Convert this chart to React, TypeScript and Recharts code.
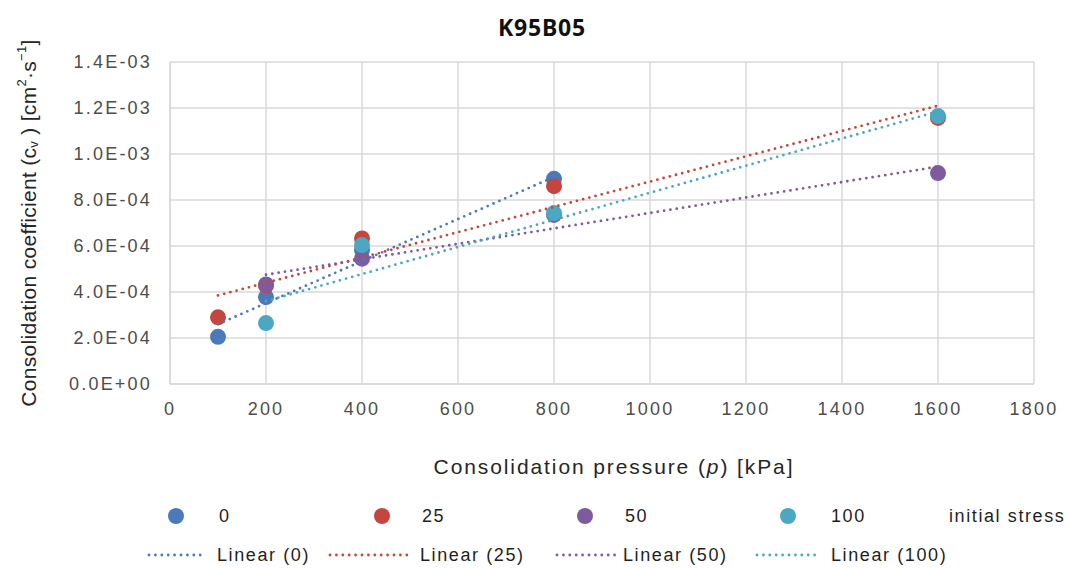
import {
  ScatterChart,
  Scatter,
  XAxis,
  YAxis,
  CartesianGrid,
  Label,
} from 'recharts'

// consolidation pressure (kPa) per series
const x0 = [100, 200, 400, 800]
const y0 = [2.05e-4, 3.78e-4, 5.83e-4, 8.92e-4]
const x25 = [100, 200, 400, 800, 1600]
const y25 = [2.9e-4, 4.28e-4, 6.33e-4, 8.6e-4, 1.157e-3]
const x50 = [200, 400, 800, 1600]
const y50 = [4.33e-4, 5.45e-4, 7.35e-4, 9.17e-4]
const x100 = [200, 400, 800, 1600]
const y100 = [2.65e-4, 6.04e-4, 7.43e-4, 1.165e-3]

// trendline end points
const trendX0 = [100, 800]
const trendY0 = [2.6e-4, 9.0e-4]
const trendX25 = [100, 1600]
const trendY25 = [3.85e-4, 1.21e-3]
const trendX50 = [200, 1600]
const trendY50 = [4.75e-4, 9.45e-4]
const trendX100 = [200, 1600]
const trendY100 = [3.6e-4, 1.185e-3]

const xTicks = [0, 200, 400, 600, 800, 1000, 1200, 1400, 1600, 1800]
const yTicks = [0, 2e-4, 4e-4, 6e-4, 8e-4, 1e-3, 1.2e-3, 1.4e-3]

const stressLabels = ['0', '25', '50', '100']
const colors = ['#4a7aba', '#c4463f', '#7e5b9e', '#4aa8c2']

const FONT = '"Liberation Sans", Arial, sans-serif'

const zip = (xs: number[], ys: number[]) => xs.map((x, i) => ({ x, y: ys[i] }))

const series = [zip(x0, y0), zip(x25, y25), zip(x50, y50), zip(x100, y100)]
const trends = [
  zip(trendX0, trendY0),
  zip(trendX25, trendY25),
  zip(trendX50, trendY50),
  zip(trendX100, trendY100),
]

function fmtSci(v: number): string {
  const [m, e] = v.toExponential(1).split('e')
  const n = parseInt(e, 10)
  const sign = n < 0 ? '-' : '+'
  return `${m}E${sign}${String(Math.abs(n)).padStart(2, '0')}`
}

const Dot = (props: any) => {
  const { cx, cy, fill } = props
  if (cx == null || cy == null) return null
  return <circle cx={cx} cy={cy} r={8} fill={fill} />
}

const NoDot = () => null

const YTitle = (props: any) => {
  const { viewBox } = props
  const cy = viewBox.y + viewBox.height / 2
  const cx = 28
  return (
    <text
      x={cx}
      y={cy}
      transform={`rotate(-90 ${cx} ${cy})`}
      textAnchor="middle"
      dominantBaseline="central"
      fontFamily={FONT}
      fontSize={21}
      letterSpacing={0.3}
      fill="#262626"
    >
      Consolidation coefficient (c
      <tspan fontSize={13} dy={5}>v</tspan>
      <tspan dy={-5}> ) [cm</tspan>
      <tspan fontSize={13} dy={-7}>2</tspan>
      <tspan dy={7}>·s</tspan>
      <tspan fontSize={13} dy={-7}>−1</tspan>
      <tspan dy={7}>]</tspan>
    </text>
  )
}

const XTitle = (props: any) => {
  const { viewBox } = props
  return (
    <text
      x={viewBox.x + viewBox.width / 2 + 12}
      y={466}
      textAnchor="middle"
      dominantBaseline="central"
      fontFamily={FONT}
      fontSize={21}
      letterSpacing={1.9}
      fill="#262626"
    >
      Consolidation pressure (<tspan fontStyle="italic">p</tspan>) [kPa]
    </text>
  )
}

const legendText = {
  position: 'absolute' as const,
  fontFamily: FONT,
  fontSize: 18,
  letterSpacing: 1.6,
  color: '#1f1f1f',
  lineHeight: '20px',
  whiteSpace: 'nowrap' as const,
}

const markerX = [176, 382, 585, 788]
const markerLabelX = [219, 422, 625, 831]
const lineStartX = [147, 328, 555, 755]
const lineEndX = [206, 410, 616, 819]
const lineLabelX = [217, 420, 623, 831]

const LegendBox = () => (
  <div style={{ position: 'absolute', left: 0, top: 495, width: 1068, height: 73 }}>
    {colors.map((c, i) => (
      <div key={'m' + i}>
        <div
          style={{
            position: 'absolute',
            left: markerX[i] - 8,
            top: 13,
            width: 16,
            height: 16,
            borderRadius: 8,
            background: c,
          }}
        />
        <div style={{ ...legendText, left: markerLabelX[i], top: 11 }}>{stressLabels[i]}</div>
        <svg
          style={{ position: 'absolute', left: lineStartX[i], top: 57 }}
          width={lineEndX[i] - lineStartX[i]}
          height={6}
        >
          <line
            x1={2}
            y1={3}
            x2={lineEndX[i] - lineStartX[i]}
            y2={3}
            stroke={c}
            strokeWidth={2.8}
            strokeLinecap="round"
            strokeDasharray="0 6.4"
          />
        </svg>
        <div style={{ ...legendText, left: lineLabelX[i], top: 50 }}>
          Linear ({stressLabels[i]})
        </div>
      </div>
    ))}
    <div style={{ ...legendText, left: 949, top: 11 }}>initial stress</div>
  </div>
)

export default function App() {
  return (
    <div style={{ position: 'absolute', left: 0, top: 0, width: 1068, height: 568, background: '#fff' }}>
      <div
        style={{
          position: 'absolute',
          left: 0,
          width: 1068,
          top: 11,
          textAlign: 'center',
          paddingLeft: 8,
          fontFamily: '"Noto Sans", "Open Sans", sans-serif',
          fontWeight: 700,
          fontSize: 23,
          letterSpacing: 0.8,
          color: '#111',
        }}
      >
        K95B05
      </div>
      <ScatterChart
        width={1068}
        height={568}
        margin={{ top: 62, right: 34, bottom: 84, left: 70 }}
      >
        <CartesianGrid stroke="#d9d9d9" strokeWidth={1.5} />
        <XAxis
          type="number"
          dataKey="x"
          domain={[0, 1800]}
          ticks={xTicks}
          interval={0}
          height={100}
          tickLine={false}
          tickSize={0}
          tickMargin={18}
          axisLine={{ stroke: '#d9d9d9', strokeWidth: 1.5 }}
          tick={{ fill: '#4d4d4d', fontSize: 18, fontFamily: FONT, letterSpacing: 2.2 }}
        >
          <Label content={<XTitle />} />
        </XAxis>
        <YAxis
          type="number"
          dataKey="y"
          domain={[0, 0.0014]}
          ticks={yTicks}
          interval={0}
          width={100}
          tickLine={false}
          tickSize={0}
          tickMargin={18}
          tickFormatter={fmtSci}
          axisLine={{ stroke: '#d9d9d9', strokeWidth: 1.5 }}
          tick={{ fill: '#4d4d4d', fontSize: 18, fontFamily: FONT, letterSpacing: 2.2 }}
        >
          <Label content={<YTitle />} />
        </YAxis>
        {series.map((d, i) => (
          <Scatter
            key={'s' + i}
            name={stressLabels[i]}
            data={d}
            fill={colors[i]}
            shape={<Dot />}
            isAnimationActive={false}
          />
        ))}
        {trends.map((d, i) => (
          <Scatter
            key={'t' + i}
            name={`Linear (${stressLabels[i]})`}
            data={d}
            fill={colors[i]}
            line={{
              stroke: colors[i],
              strokeWidth: 2.8,
              strokeLinecap: 'round',
              strokeDasharray: '0 6.4',
            }}
            shape={<NoDot />}
            legendType="none"
            isAnimationActive={false}
          />
        ))}
      </ScatterChart>
      <LegendBox />
    </div>
  )
}
